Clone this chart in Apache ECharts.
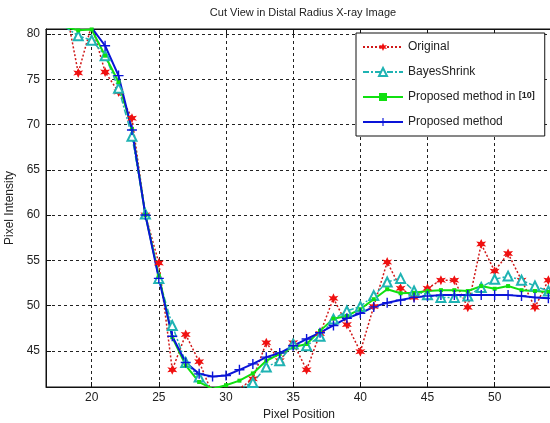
<!DOCTYPE html>
<html>
	<head>
		<meta charset="utf-8">
		<title>Cut View in Distal Radius X-ray Image</title>
		<script src="https://cdn.jsdelivr.net/npm/echarts@6/dist/echarts.min.js"></script>
		<style>
			html, body { margin: 0; padding: 0; background: #fff; }
			#main { width: 550px; height: 423px; }
		</style>
	</head>
	<body>
		<div id="main"></div>
		<script>
// pixel positions 18..54
var positions = [18, 19, 20, 21, 22, 23, 24, 25, 26, 27, 28, 29, 30, 31, 32, 33, 34, 35, 36,
	37, 38, 39, 40, 41, 42, 43, 44, 45, 46, 47, 48, 49, 50, 51, 52, 53, 54];
var original = [83.4, 75.7, 81.0, 75.8, 73.6, 70.7, 60.0, 54.7, 42.9, 46.8, 43.8, 40.2, 40.5, 40.8, 41.9, 45.9, 43.9, 45.9, 42.9,
	46.9, 50.8, 47.9, 44.9, 49.9, 54.8, 51.9, 50.9, 51.9, 52.8, 52.8, 49.8, 56.8, 53.8, 55.75, 52.8, 49.8, 52.8];
var bayesShrink = [80.8, 79.8, 79.3, 77.6, 74.0, 68.7, 60.1, 53.0, 47.8, 43.7, 42.1, 40.6, 40.3, 40.8, 41.5, 43.2, 43.9, 45.75, 45.55,
	46.6, 48.5, 49.4, 49.9, 51.1, 52.6, 53.0, 51.6, 51.2, 50.9, 50.9, 51.05, 52.0, 52.9, 53.25, 52.8, 52.15, 51.6];
var methodRef10 = [80.8, 80.4, 80.5, 77.6, 74.7, 69.5, 60.0, 53.3, 46.5, 43.4, 41.55, 40.8, 41.2, 41.7, 42.5, 43.9, 44.65, 45.4, 45.75,
	47.2, 48.55, 48.85, 49.6, 50.7, 51.8, 51.35, 51.4, 51.6, 51.7, 51.7, 51.6, 52.15, 51.85, 52.15, 51.7, 51.6, 51.5];
var proposed = [83.0, 82.0, 80.7, 78.7, 75.4, 69.4, 60.0, 53.0, 46.6, 43.7, 42.45, 42.15, 42.27, 42.9, 43.55, 44.3, 44.75, 45.55, 46.3,
	47.0, 47.8, 48.6, 49.15, 49.85, 50.3, 50.6, 50.9, 51.05, 51.15, 51.15, 51.15, 51.15, 51.15, 51.15, 51.05, 50.9, 50.8];
var seriesNames = ['Original', 'BayesShrink', 'Proposed method in [10]', 'Proposed method'];

function pairs(ys) {
	var out = [];
	for (var i = 0; i < positions.length; i++) {
		out.push([positions[i], ys[i]]);
	}
	return out;
}

var starPath = 'path://M5,0L6.4,3.1L9.8,2.5L7.7,5L9.8,7.5L6.4,6.9L5,10L3.6,6.9L0.2,7.5L2.3,5L0.2,2.5L3.6,3.1Z';
var plusPath = 'path://M4.3,0H5.7V4.3H10V5.7H5.7V10H4.3V5.7H0V4.3H4.3Z';
var fontName = 'Liberation Sans, Arial, sans-serif';

var myChart = echarts.init(document.getElementById('main'), null, { renderer: 'canvas' });

var gridLine = { show: true, lineStyle: { color: '#222', type: [3, 3], width: 1 } };

myChart.setOption({
	animation: false,
	backgroundColor: '#fff',
	title: {
		text: 'Cut View in Distal Radius X-ray Image',
		left: 298,
		top: 2,
		textAlign: 'center',
		textStyle: { fontFamily: fontName, fontSize: 11, fontWeight: 'normal', color: '#222' }
	},
	grid: {
		left: 46, top: 29, right: -2, bottom: 36,
		outerBoundsMode: 'none',
		containLabel: false,
		show: true, borderColor: '#111', borderWidth: 1, backgroundColor: '#fff'
	},
	legend: {
		orient: 'vertical',
		left: 356,
		top: 33,
		width: 192,
		padding: [8, 10, 8, 6],
		itemGap: 13,
		itemWidth: 40,
		itemHeight: 10,
		backgroundColor: '#fff',
		borderColor: '#111',
		borderWidth: 1,
		borderRadius: 0,
		data: seriesNames,
		formatter: function (name) {
			if (name === 'Proposed method in [10]') {
				return '{a|Proposed method in }{b|[10]}';
			}
			return '{a|' + name + '}';
		},
		textStyle: {
			fontFamily: fontName,
			fontSize: 12,
			color: '#222',
			rich: {
				a: { fontFamily: fontName, fontSize: 12, color: '#222' },
				b: { fontFamily: fontName, fontSize: 9, fontWeight: 'bold', color: '#222', verticalAlign: 'top', padding: [0, 0, 3, 0] }
			}
		}
	},
	xAxis: [{
		type: 'value',
		min: 16.6,
		max: 54.27,
		splitNumber: 8,
		name: 'Pixel Position',
		nameLocation: 'middle',
		nameGap: 20,
		nameTextStyle: { fontFamily: fontName, fontSize: 12, color: '#222' },
		axisLine: { show: true, onZero: false, lineStyle: { color: '#111' } },
		axisTick: { show: true, inside: true, length: 5, lineStyle: { color: '#111' } },
		axisLabel: {
			fontFamily: fontName, fontSize: 12, color: '#222', margin: 5,
			formatter: function (v) { return v % 5 === 0 ? String(v) : ''; }
		},
		splitLine: gridLine
	}, {
		type: 'value',
		position: 'top',
		min: 16.6,
		max: 54.27,
		splitNumber: 8,
		axisLine: { show: true, onZero: false, lineStyle: { color: '#111' } },
		axisTick: { show: true, inside: true, length: 5, lineStyle: { color: '#111' } },
		axisLabel: { show: false },
		splitLine: { show: false }
	}],
	yAxis: {
		type: 'value',
		min: 41.0,
		max: 80.55,
		splitNumber: 8,
		name: 'Pixel Intensity',
		nameLocation: 'middle',
		nameGap: 25,
		nameTextStyle: { fontFamily: fontName, fontSize: 12, color: '#222' },
		axisLine: { show: true, onZero: false, lineStyle: { color: '#111' } },
		axisTick: { show: true, inside: true, length: 5, lineStyle: { color: '#111' } },
		axisLabel: {
			fontFamily: fontName, fontSize: 12, color: '#222', margin: 6,
			formatter: function (v) { return v % 5 === 0 ? String(v) : ''; }
		},
		splitLine: gridLine
	},
	series: [
		{
			name: seriesNames[0],
			type: 'line',
			data: pairs(original),
			symbol: starPath,
			symbolSize: 10,
			itemStyle: { color: '#f01010' },
			lineStyle: { color: '#d01818', width: 1.5, type: [2, 2] }
		},
		{
			name: seriesNames[1],
			type: 'line',
			data: pairs(bayesShrink),
			symbol: 'emptyTriangle',
			symbolSize: 9,
			itemStyle: { color: '#1fb3b3', borderWidth: 1.2 },
			lineStyle: { color: '#1fb3b3', width: 1.5, type: [6, 2, 2, 2] }
		},
		{
			name: seriesNames[2],
			type: 'line',
			data: pairs(methodRef10),
			symbol: 'rect',
			symbolSize: 4,
			itemStyle: { color: '#10e010' },
			lineStyle: { color: '#10e010', width: 2 }
		},
		{
			name: seriesNames[3],
			type: 'line',
			data: pairs(proposed),
			symbol: plusPath,
			symbolSize: 10,
			itemStyle: { color: '#0a14d8' },
			lineStyle: { color: '#0a14d8', width: 2 }
		}
	]
});
		</script>
	</body>
</html>
